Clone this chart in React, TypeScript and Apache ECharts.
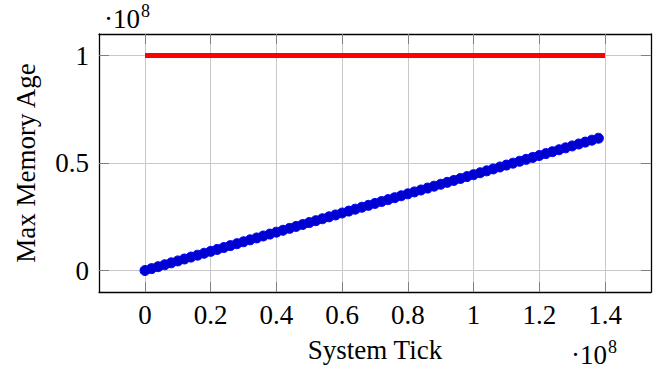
import React, { useEffect, useRef } from "react";
import * as echarts from "echarts";

// ---- data (values in units of 10^8) ----
const xTicks = [0, 0.2, 0.4, 0.6, 0.8, 1, 1.2, 1.4];
const xTickLabels = ["0", "0.2", "0.4", "0.6", "0.8", "1", "1.2", "1.4"];
const yTicks = [0, 0.5, 1];
const yTickLabels = ["0", "0.5", "1"];

const systemTick = [
  0, 0.02, 0.04, 0.06, 0.08, 0.1, 0.12, 0.14, 0.16, 0.18,
  0.2, 0.22, 0.24, 0.26, 0.28, 0.3, 0.32, 0.34, 0.36, 0.38,
  0.4, 0.42, 0.44, 0.46, 0.48, 0.5, 0.52, 0.54, 0.56, 0.58,
  0.6, 0.62, 0.64, 0.66, 0.68, 0.7, 0.72, 0.74, 0.76, 0.78,
  0.8, 0.82, 0.84, 0.86, 0.88, 0.9, 0.92, 0.94, 0.96, 0.98,
  1.0, 1.02, 1.04, 1.06, 1.08, 1.1, 1.12, 1.14, 1.16, 1.18,
  1.2, 1.22, 1.24, 1.26, 1.28, 1.3, 1.32, 1.34, 1.36, 1.38,
];
const maxMemoryAge = [
  0, 0.0089, 0.0178, 0.0267, 0.0357, 0.0446, 0.0535, 0.0624, 0.0713, 0.0802,
  0.0891, 0.0981, 0.107, 0.1159, 0.1248, 0.1337, 0.1426, 0.1515, 0.1605, 0.1694,
  0.1783, 0.1872, 0.1961, 0.205, 0.2139, 0.2229, 0.2318, 0.2407, 0.2496, 0.2585,
  0.2674, 0.2763, 0.2852, 0.2942, 0.3031, 0.312, 0.3209, 0.3298, 0.3387, 0.3476,
  0.3566, 0.3655, 0.3744, 0.3833, 0.3922, 0.4011, 0.41, 0.419, 0.4279, 0.4368,
  0.4457, 0.4546, 0.4635, 0.4724, 0.4814, 0.4903, 0.4992, 0.5081, 0.517, 0.5259,
  0.5348, 0.5438, 0.5527, 0.5616, 0.5705, 0.5794, 0.5883, 0.5972, 0.6062, 0.6151,
];
const limitTick = [0, 1.4];
const limitAge = [1, 1];

const xName = "System Tick";
const yName = "Max Memory Age";
const expBase = "·10";
const expPower = "8";

const FONT = "'Liberation Serif', 'Times New Roman', serif";
const FS = 27;

function labelFor(ticks: number[], labels: string[]) {
  return (v: number) => {
    const i = ticks.findIndex((t) => Math.abs(t - v) < 1e-9);
    return i >= 0 ? labels[i] : "";
  };
}

export default function App() {
  const ref = useRef<HTMLDivElement>(null);
  useEffect(() => {
    if (!ref.current) return;
    const chart = echarts.init(ref.current, null, { renderer: "svg" });
    const axisLine = { show: true, onZero: false, lineStyle: { color: "#000", width: 1.3 } };
    const tickStyle = { color: "#808080", width: 1 };
    const gridStyle = { color: "#c8c8c8", width: 1 };
    const xMin = -0.14, xMax = 1.54, yMin = -0.1, yMax = 1.1;
    chart.setOption({
      animation: false,
      grid: { left: 99, top: 34, right: 6, bottom: 78 },
      xAxis: [
        {
          type: "value", position: "bottom", min: xMin, max: xMax,
          name: xName, nameLocation: "middle", nameGap: 44,
          nameTextStyle: { fontFamily: FONT, fontSize: FS, color: "#000" },
          axisLine,
          axisTick: { show: true, inside: true, length: 10, lineStyle: tickStyle, customValues: xTicks },
          axisLabel: { show: true, margin: 9, fontFamily: FONT, fontSize: FS, color: "#000", customValues: xTicks, formatter: labelFor(xTicks, xTickLabels) },
          splitLine: { show: true, lineStyle: gridStyle },
        },
        {
          type: "value", position: "top", min: xMin, max: xMax,
          axisLine,
          axisTick: { show: true, inside: true, length: 10, lineStyle: tickStyle, customValues: xTicks },
          axisLabel: { show: false },
          splitLine: { show: false },
        },
      ],
      yAxis: [
        {
          type: "value", position: "left", min: yMin, max: yMax,
          name: yName, nameLocation: "middle", nameGap: 60, nameRotate: 90,
          nameTextStyle: { fontFamily: FONT, fontSize: FS, color: "#000" },
          axisLine,
          axisTick: { show: true, inside: true, length: 10, lineStyle: tickStyle, customValues: yTicks },
          axisLabel: { show: true, margin: 10, fontFamily: FONT, fontSize: FS, color: "#000", customValues: yTicks, formatter: labelFor(yTicks, yTickLabels) },
          splitLine: { show: true, lineStyle: gridStyle },
        },
        {
          type: "value", position: "right", min: yMin, max: yMax,
          axisLine,
          axisTick: { show: true, inside: true, length: 10, lineStyle: tickStyle, customValues: yTicks },
          axisLabel: { show: false },
          splitLine: { show: false },
        },
      ],
      series: [
        {
          type: "line",
          xAxisIndex: 0, yAxisIndex: 0,
          data: limitTick.map((x, i) => [x, limitAge[i]]),
          symbol: "none",
          lineStyle: { color: "#ff0000", width: 5 },
          z: 3,
        },
        {
          type: "line",
          xAxisIndex: 0, yAxisIndex: 0,
          data: systemTick.map((x, i) => [x, maxMemoryAge[i]]),
          symbol: "circle",
          symbolSize: 10,
          showAllSymbol: true,
          lineStyle: { color: "#0000ff", width: 1 },
          itemStyle: { color: "#0000cc", borderColor: "#0000ff", borderWidth: 1 },
          z: 4,
        },
      ],
      graphic: [
        { type: "text", x: 140, y: 19, style: { text: expBase, font: `${FS}px ${FONT}`, fill: "#000", align: "right", verticalAlign: "middle" } },
        { type: "text", x: 141, y: 11, style: { text: expPower, font: `18px ${FONT}`, fill: "#000", align: "left", verticalAlign: "middle" } },
        { type: "text", x: 607, y: 355, style: { text: expBase, font: `${FS}px ${FONT}`, fill: "#000", align: "right", verticalAlign: "middle" } },
        { type: "text", x: 608, y: 347, style: { text: expPower, font: `18px ${FONT}`, fill: "#000", align: "left", verticalAlign: "middle" } },
      ],
    });
    return () => chart.dispose();
  }, []);
  return <div ref={ref} style={{ position: "absolute", left: 0, top: 0, width: 657, height: 370 }} />;
}
